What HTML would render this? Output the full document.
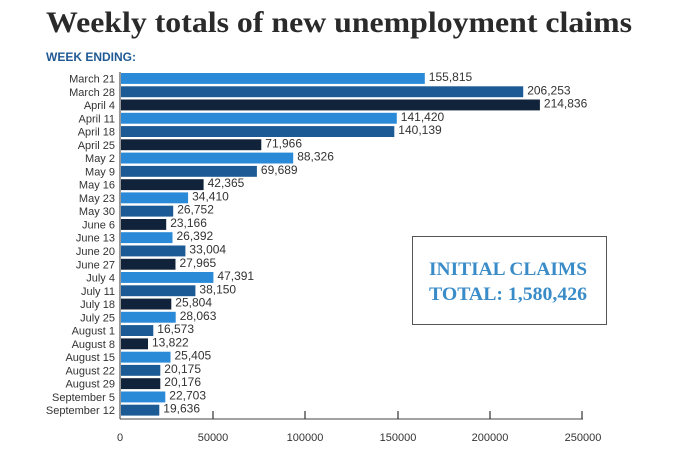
<!DOCTYPE html>
<html><head><style>
body{margin:0;background:#fff;}
</style></head><body>
<svg width="696" height="453" xmlns="http://www.w3.org/2000/svg">
<rect width="696" height="453" fill="#fff"/>
<text x="46" y="32" font-family="Liberation Serif, serif" font-weight="bold" font-size="30" fill="#2a2a2a" textLength="586" lengthAdjust="spacingAndGlyphs">Weekly totals of new unemployment claims</text>
<text x="46" y="61" font-family="Liberation Sans, sans-serif" font-weight="bold" font-size="12" fill="#1f5a94">WEEK ENDING:</text>
<g id="bars" font-family="Liberation Sans, sans-serif" font-size="12" fill="#333"></g>
<line x1="120" y1="72" x2="120" y2="419" stroke="#333" stroke-width="1"/>
<line x1="120" y1="419" x2="583" y2="419" stroke="#444" stroke-width="1"/>
<g stroke="#333" stroke-width="1.2">
<line x1="213" y1="411" x2="213" y2="419"/><line x1="305" y1="411" x2="305" y2="419"/>
<line x1="398" y1="411" x2="398" y2="419"/><line x1="490" y1="411" x2="490" y2="419"/>
<line x1="582" y1="411" x2="582" y2="419"/></g>
<g font-family="Liberation Sans, sans-serif" font-size="11" fill="#333" text-anchor="middle">
<text x="120" y="441">0</text><text x="213" y="441">50000</text><text x="305" y="441">100000</text>
<text x="398" y="441">150000</text><text x="490" y="441">200000</text><text x="583" y="441">250000</text></g>
<rect x="412.5" y="236.5" width="194" height="88" fill="#fff" stroke="#555" stroke-width="1"/>
<g font-family="Liberation Serif, serif" font-size="19" fill="#3a8cc8" font-weight="bold">
<text x="429" y="275" textLength="158" lengthAdjust="spacingAndGlyphs">INITIAL CLAIMS</text><text x="429" y="300" textLength="158" lengthAdjust="spacingAndGlyphs">TOTAL: 1,580,426</text></g>
</svg>
<script>
var d=[["March 21",155815],["March 28",206253],["April 4",214836],["April 11",141420],["April 18",140139],["April 25",71966],["May 2",88326],["May 9",69689],["May 16",42365],["May 23",34410],["May 30",26752],["June 6",23166],["June 13",26392],["June 20",33004],["June 27",27965],["July 4",47391],["July 11",38150],["July 18",25804],["July 25",28063],["August 1",16573],["August 8",13822],["August 15",25405],["August 22",20175],["August 29",20176],["September 5",22703],["September 12",19636]];
var cols=["#2a8ad8","#1b5a94","#10233a"];
var g=document.getElementById("bars"),s="";
var pitch=(418-73)/26;
d.forEach(function(r,i){var y=73+i*pitch;var w=r[1]*0.00195;
s+='<rect x="121" y="'+(y).toFixed(1)+'" width="'+w.toFixed(1)+'" height="'+(pitch-2.4).toFixed(1)+'" fill="'+cols[i%3]+'"/>';
s+='<text x="115" y="'+(y+9.5).toFixed(1)+'" text-anchor="end" font-size="11">'+r[0]+'</text>';
s+='<text x="'+(125+w).toFixed(1)+'" y="'+(y+8).toFixed(1)+'">'+r[1].toLocaleString("en-US")+'</text>';});
g.innerHTML=s;
</script>
</body></html>
